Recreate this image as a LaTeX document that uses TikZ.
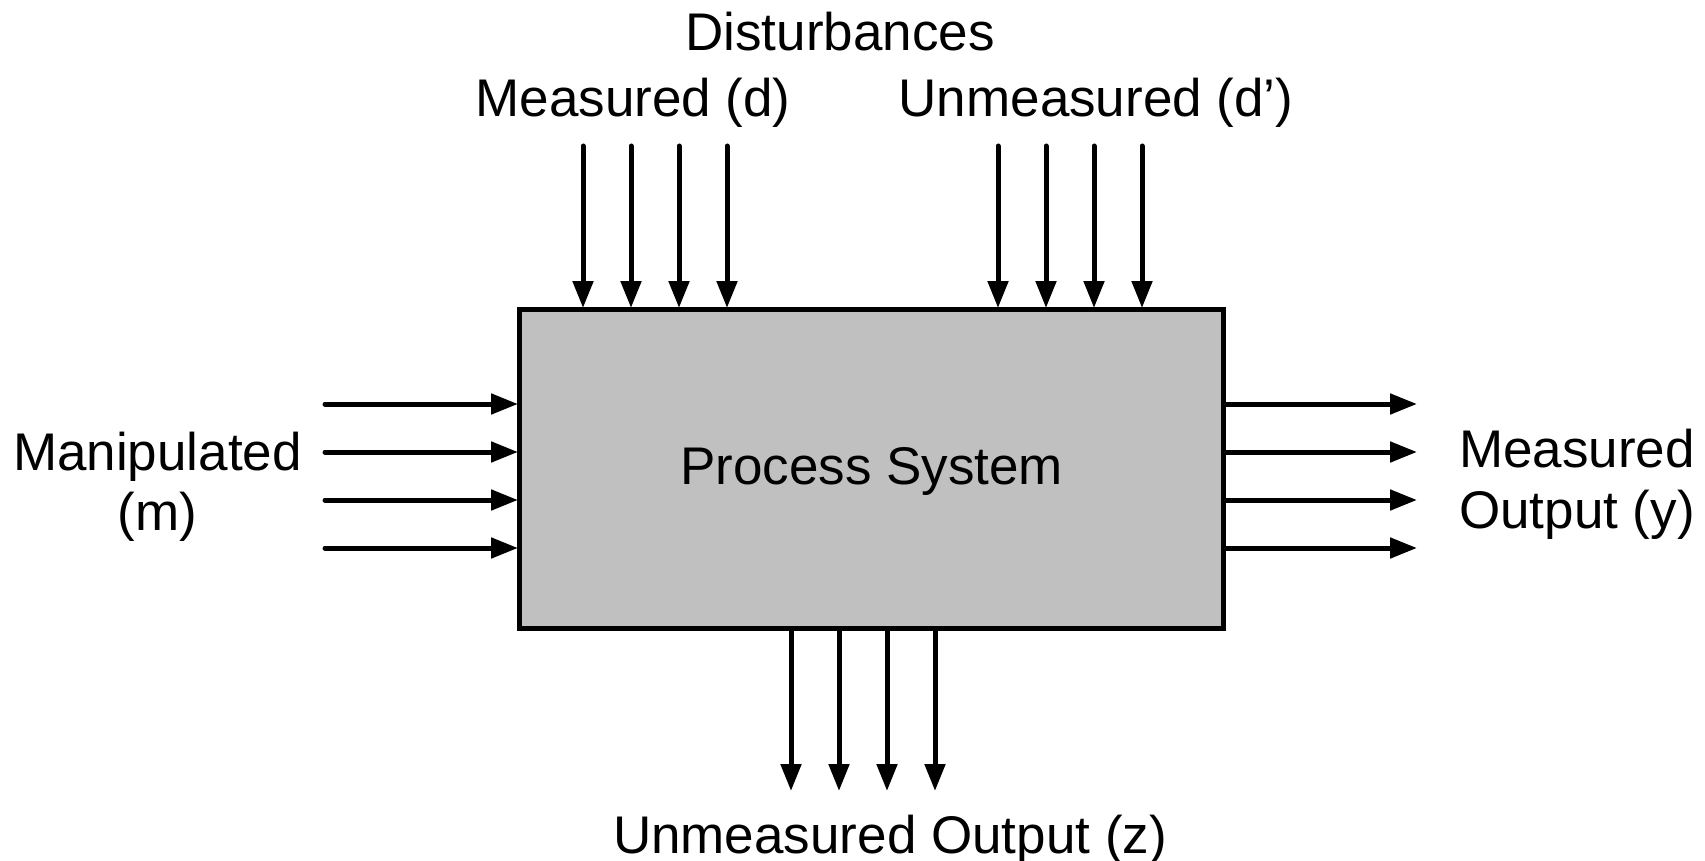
\documentclass[tikz,border=0pt]{standalone}
\usepackage{fontspec}
\setmainfont{Liberation Sans}
\usetikzlibrary{arrows.meta}
\definecolor{boxgray}{RGB}{192,192,192}
\tikzset{
  lbl/.style={anchor=base, inner sep=0pt, font=\fontsize{53}{61}\selectfont, align=center},
  sig/.style={line width=5pt, line cap=round, -{Triangle[length=27pt,width=20pt]}},
  procbox/.style={draw, line width=5pt, fill=boxgray, minimum width=704pt, minimum height=319pt, inner sep=0pt}
}
\begin{document}
\begin{tikzpicture}[x=1pt,y=-1pt]
\useasboundingbox (0,0) rectangle (1705,861);
\node[procbox] (box) at (871,468.5) {};
\node[lbl] (ps) at (871.5,484) {Process System};
\node[lbl] (dist) at (840,51) {Disturbances};
\node[lbl] (dm) at (633,117) {Measured (d)};
\node[lbl] (du) at (1096,117) {Unmeasured (d’)};
\node[lbl] (man) at (157.5,470) {Manipulated};
\node[lbl] (manm) at (157.5,530) {(m)};
\node[lbl] (mo1) at (1577,467) {Measured};
\node[lbl] (mo2) at (1577,528) {Output (y)};
\node[lbl] (uo) at (890,853) {Unmeasured Output (z)};
% measured disturbances
\foreach \i/\x in {1/583,2/631,3/679,4/727}{
  \coordinate (md\i) at (\x,146);
  \draw[sig, shorten >=-1.5pt] (md\i) -- (md\i |- box.north);
}
% unmeasured disturbances
\foreach \i/\x in {1/998,2/1046,3/1094,4/1142}{
  \coordinate (ud\i) at (\x,146);
  \draw[sig, shorten >=-1.5pt] (ud\i) -- (ud\i |- box.north);
}
% manipulated inputs
\foreach \i/\y in {1/404,2/452,3/500,4/548}{
  \coordinate (mi\i) at (325,\y);
  \draw[sig, shorten >=-1.5pt] (mi\i) -- (mi\i -| box.west);
}
% measured outputs
\foreach \i/\y in {1/404,2/452,3/500,4/548}{
  \coordinate (yo\i) at (1417,\y);
  \draw[sig] (yo\i -| box.east) -- (yo\i);
}
% unmeasured outputs
\foreach \i/\x in {1/791,2/839,3/887,4/935}{
  \coordinate (zo\i) at (\x,791);
  \draw[sig] (zo\i |- box.south) -- (zo\i);
}
\end{tikzpicture}
\end{document}
